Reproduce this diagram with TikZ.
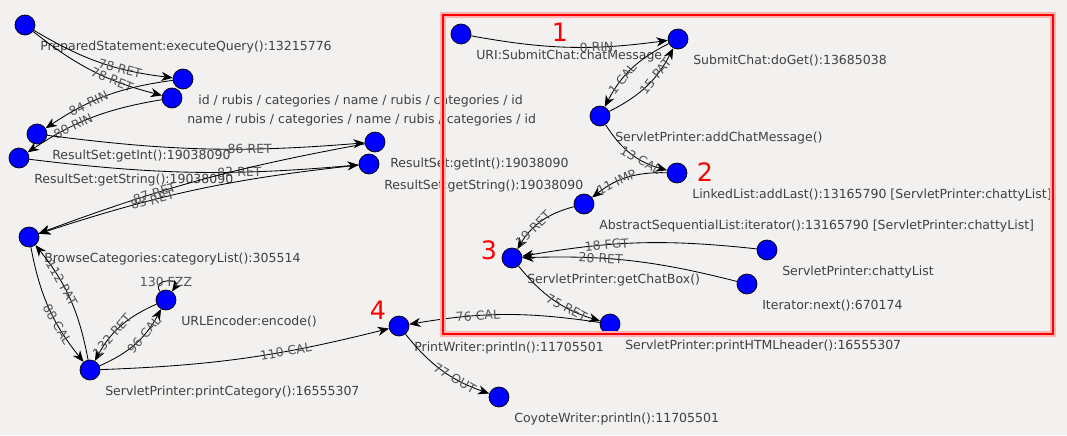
\documentclass[tikz,border=0pt]{standalone}
\usepackage{fontspec}
\setmainfont{DejaVu Sans}
\usetikzlibrary{arrows.meta}
\usetikzlibrary{positioning,calc}

\definecolor{fond}{RGB}{242,241,240}
\definecolor{gristexte}{RGB}{64,64,64}
\definecolor{grisarc}{RGB}{85,85,85}

\begin{document}
\begin{tikzpicture} [
  x = 0.025cm, y = 0.025cm,
  sommet/.style = {circle,draw=black,fill=blue,inner sep = 0pt,minimum size = 0.5cm,line width = 0.5pt},
  texte/.style = {anchor = west,inner sep = 0pt,text = gristexte,font = \fontsize{8.9}{10}\selectfont},
  poids/.style = {pos = 0.65,sloped,inner sep = 0pt,text = grisarc,font = \fontsize{8.9}{10}\selectfont},
  repere/.style = {text = red,font = \fontsize{18}{18}\selectfont},
  fleche/.style = {draw,line width = 0.6pt,-{Stealth[length = 8pt,width = 6.5pt,inset = 2.5pt]}},
]

 \fill [fond] (0,0) rectangle (1067,-435);

 % partie gauche
 \node [sommet] (ps) at (25,-25) {};
 \node [sommet] (rs1) at (183,-79) {};
 \node [sommet] (rs2) at (172,-98) {};
 \node [sommet] (gi1) at (37,-134) {};
 \node [sommet] (gs1) at (19,-158) {};
 \node [sommet] (gi2) at (375,-142) {};
 \node [sommet] (gs2) at (369,-164) {};
 \node [sommet] (bc) at (29,-237) {};
 \node [sommet] (ue) at (166,-300) {};
 \node [sommet] (pc) at (90,-370) {};
 \node [sommet] (pw) at (399,-326) {};
 \node [sommet] (cw) at (499,-397) {};

 % partie droite
 \node [sommet] (uri) at (461,-34) {};
 \node [sommet] (get) at (678,-39) {};
 \node [sommet] (acm) at (600,-116) {};
 \node [sommet] (add) at (677,-173) {};
 \node [sommet] (ite) at (584,-204) {};
 \node [sommet] (gcb) at (512,-258) {};
 \node [sommet] (chl) at (767,-250) {};
 \node [sommet] (nxt) at (747,-284) {};
 \node [sommet] (hdr) at (610,-324) {};

 \node [texte] at ([shift={(15,-22)}]ps) {PreparedStatement:executeQuery():13215776};
 \node [texte] at ([shift={(15,-22)}]rs1) {id / rubis / categories / name / rubis / categories / id};
 \node [texte] at ([shift={(15,-22)}]rs2) {name / rubis / categories / name / rubis / categories / id};
 \node [texte] at ([shift={(15,-22)}]gi1) {ResultSet:getInt():19038090};
 \node [texte] at ([shift={(15,-22)}]gs1) {ResultSet:getString():19038090};
 \node [texte] at ([shift={(15,-22)}]gi2) {ResultSet:getInt():19038090};
 \node [texte] at ([shift={(15,-22)}]gs2) {ResultSet:getString():19038090};
 \node [texte] at ([shift={(15,-22)}]bc) {BrowseCategories:categoryList():305514};
 \node [texte] at ([shift={(15,-22)}]ue) {URLEncoder:encode()};
 \node [texte] at ([shift={(15,-22)}]pc) {ServletPrinter:printCategory():16555307};
 \node [texte] at ([shift={(15,-22)}]pw) {PrintWriter:println():11705501};
 \node [texte] at ([shift={(15,-22)}]cw) {CoyoteWriter:println():11705501};
 \node [texte] at ([shift={(15,-22)}]uri) {URI:SubmitChat:chatMessage};
 \node [texte] at ([shift={(15,-22)}]get) {SubmitChat:doGet():13685038};
 \node [texte] at ([shift={(15,-22)}]acm) {ServletPrinter:addChatMessage()};
 \node [texte] at ([shift={(15,-22)}]add) {LinkedList:addLast():13165790 [ServletPrinter:chattyList]};
 \node [texte] at ([shift={(15,-22)}]ite) {AbstractSequentialList:iterator():13165790 [ServletPrinter:chattyList]};
 \node [texte] at ([shift={(15,-22)}]gcb) {ServletPrinter:getChatBox()};
 \node [texte] at ([shift={(15,-22)}]chl) {ServletPrinter:chattyList};
 \node [texte] at ([shift={(15,-22)}]nxt) {Iterator:next():670174};
 \node [texte] at ([shift={(15,-22)}]hdr) {ServletPrinter:printHTMLheader():16555307};

 \node [repere] (un) at (560,-32) {1};
 \node [repere] (deux) at (705,-172) {2};
 \node [repere] (trois) at (489,-250) {3};
 \node [repere] (quatre) at (378,-310) {4};

 \begin{scope}[every path/.style=fleche]
\path (ps) to[bend right=12] node[poids] {78 RET} (rs1);
\path (ps) to[bend right=12] node[poids] {78 RET} (rs2);
\path (rs1) to[bend right=13] node[poids] {84 RIN} (gi1);
\path (rs2) to[bend right=12] node[poids] {80 RIN} (gs1);
\path (gi1) to[bend right=6] node[poids] {86 RET} (gi2);
\path (gs1) to[bend right=6] node[poids] {82 RET} (gs2);
\path (gi2) to[bend right=5] node[poids] {87 RET} (bc);
\path (gs2) to[bend right=6] node[poids] {83 RET} (bc);
\path (bc) to[bend right=14] node[poids] {88 CAL} (pc);
\path (pc) to[bend right=14] node[poids] {112 PAT} (bc);
\path (pc) to[bend right=19] node[poids] {96 CAL} (ue);
\path (ue) to[bend right=19] node[poids] {132 RET} (pc);
\path (ue) to[out=125,in=55,min distance=4mm] node[poids,pos=0.5] {130 FZZ} (ue);
\path (pc) to[bend right=6] node[poids] {110 CAL} (pw);
\path (pw) to[bend right=16] node[poids] {77 OUT} (cw);
\path (uri) to[bend right=9] node[poids] {0 RIN} (get);
\path (get) to[bend right=18] node[poids] {1 CAL} (acm);
\path (acm) to[bend right=18] node[poids] {15 PAT} (get);
\path (acm) to[bend right=21] node[poids] {13 CAL} (add);
\path (add) to[bend right=20] node[poids] {11 IMP} (ite);
\path (ite) to[bend right=22] node[poids] {19 RET} (gcb);
\path (chl) to[bend right=8] node[poids] {18 FGT} (gcb);
\path (nxt) to[bend right=8] node[poids] {20 RET} (gcb);
\path (gcb) to[bend right=17] node[poids] {75 RET} (hdr);
\path (hdr) to[bend right=9] node[poids] {76 CAL} (pw);
\end{scope}

 % cadre rouge
 \draw [red!30, line width = 4.5pt] (443,-15) rectangle (1053,-334);
 \draw [red, line width = 2pt] (443,-15) rectangle (1053,-334);

\end{tikzpicture}
\end{document}
